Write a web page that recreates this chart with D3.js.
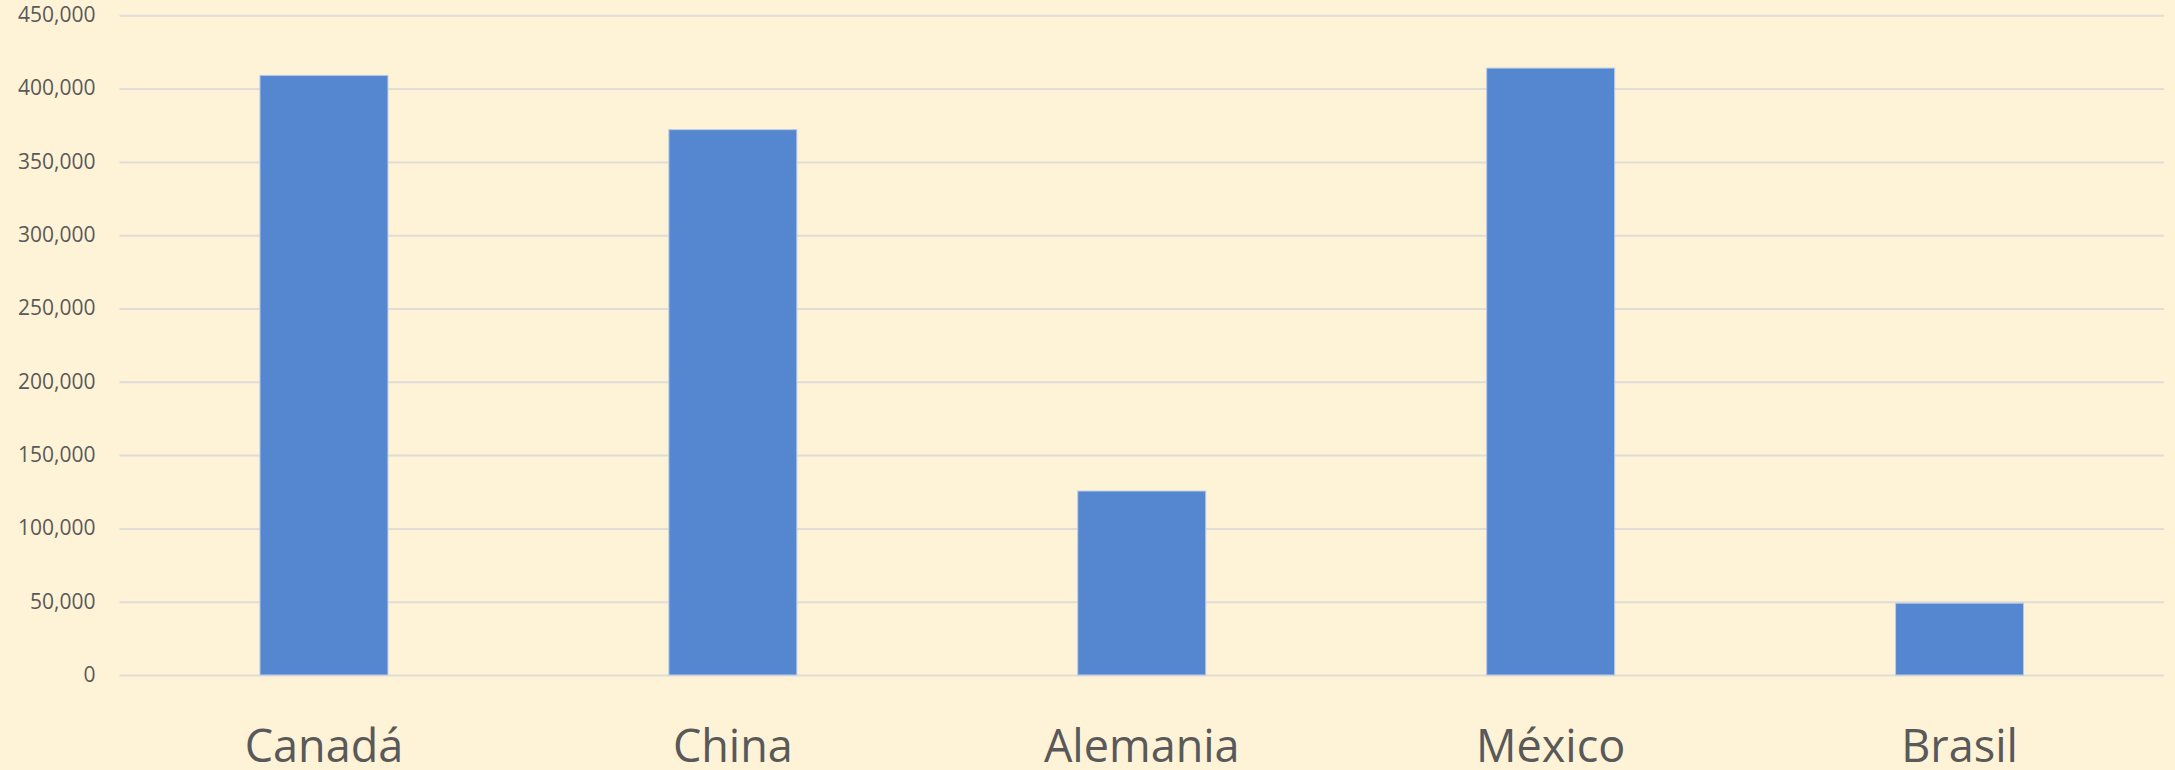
<!DOCTYPE html>
<html><head><meta charset="utf-8">
<script src="https://cdn.jsdelivr.net/npm/d3@7"></script>
<style>html,body{margin:0;padding:0;background:#FFF3D7;}</style>
</head><body>
<svg id="chart" width="2175" height="770"></svg>
<script>
const categories = ["Canadá", "China", "Alemania", "México", "Brasil"];
const values = [409000, 372000, 125500, 414000, 49000];
const yTicks = [0, 50000, 100000, 150000, 200000, 250000, 300000, 350000, 400000, 450000];

const svg = d3.select("#chart");
const W = 2175, H = 770;
const m = {left: 119.5, right: 11, top: 15.3, bottom: 95};
svg.append("rect").attr("width", W).attr("height", H).attr("fill", "#FFF3D7");

const x = d3.scaleBand().domain(categories).range([m.left, W - m.right]).padding(0);
const y = d3.scaleLinear().domain([0, 450000]).range([H - m.bottom, m.top]);
const barFrac = 0.313;

const fmt = d3.format(",");
const yAxis = d3.axisLeft(y).tickValues(yTicks).tickFormat(fmt).tickSize(-(W - m.left - m.right)).tickPadding(24);
const gy = svg.append("g").attr("transform", `translate(${m.left},0)`).call(yAxis);
gy.select(".domain").remove();
gy.selectAll(".tick line").attr("stroke", "#E0DDD6").attr("stroke-width", 2);
gy.selectAll(".tick text").attr("fill", "#595959").attr("font-family", "'Open Sans', sans-serif")
  .attr("font-size", 21).attr("dy", "0.3em");

svg.append("g").selectAll("rect").data(categories).join("rect")
  .attr("x", d => x(d) + x.bandwidth() * (1 - barFrac) / 2)
  .attr("width", x.bandwidth() * barFrac)
  .attr("y", (d, i) => y(values[i]))
  .attr("height", (d, i) => y(0) - y(values[i]))
  .attr("fill", "#5587D0")
  .attr("stroke", "#B9CCE8").attr("stroke-width", 1);

const xAxis = d3.axisBottom(x).tickSize(0).tickPadding(0);
const gx = svg.append("g").attr("transform", `translate(0,${y(0)})`).call(xAxis);
gx.select(".domain").remove();
gx.selectAll(".tick text").attr("fill", "#595959").attr("font-family", "'Open Sans', sans-serif")
  .attr("font-size", 45).attr("dy", 0).attr("y", 86.5);
</script>
</body></html>
